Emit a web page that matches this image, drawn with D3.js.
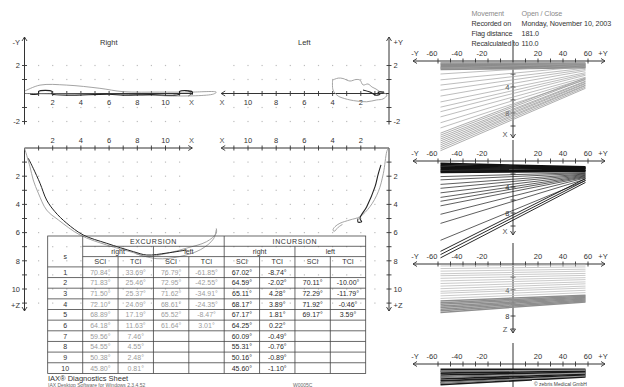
<!DOCTYPE html>
<html>
<head>
<meta charset="utf-8">
<script src="https://cdn.jsdelivr.net/npm/d3@7"></script>
<style>
body { margin: 0; background: #fff; }
svg { display: block; font-family: "Liberation Sans", Arial, sans-serif; }
</style>
</head>
<body>
<svg id="chart" width="624" height="387"></svg>
<script>
// ---- data ----
const headerKeys = ['Movement', 'Recorded on', 'Flag distance', 'Recalculated to'];
const headerVals = ['Open / Close', 'Monday, November 10, 2003', '181.0', '110.0'];

const rowLabels = ['1', '2', '3', '4', '5', '6', '7', '8', '9', '10'];
const excRightSCI = [70.84, 71.83, 71.50, 72.10, 68.89, 64.18, 59.56, 54.55, 50.38, 45.80];
const excRightTCI = [33.69, 25.46, 25.37, 24.09, 17.19, 11.63, 7.46, 4.55, 2.48, 0.81];
const excLeftSCI = [76.79, 72.95, 71.62, 68.61, 65.52, 61.64, null, null, null, null];
const excLeftTCI = [-61.85, -42.55, -34.91, -24.35, -8.47, 3.01, null, null, null, null];
const incRightSCI = [67.02, 64.59, 65.11, 68.17, 67.17, 64.25, 60.09, 55.31, 50.16, 45.60];
const incRightTCI = [-8.74, -2.02, 4.28, 3.89, 1.81, 0.22, -0.49, -0.76, -0.89, -1.10];
const incLeftSCI = [null, 70.11, 72.29, 71.92, 69.17, null, null, null, null, null];
const incLeftTCI = [null, -10.00, -11.79, -0.46, 3.59, null, null, null, null, null];

// traces [x, y] in sheet units
const topRightGray = [[0.03, 0.18], [1.1, 0.6], [3.0, 0.6], [5.35, 0.37], [7.0, 0.13], [9.6, 0.1], [11.7, 0.1], [13.6, 0.1],
  [13.4, -0.04], [10.5, -0.18], [8.9, -0.1], [6.8, -0.07], [2.5, -0.04], [0.03, 0]];
const topRightDark = [[0.4, -0.05], [1.0, -0.02], [1.0, 0.15], [1.95, 0.15], [1.95, -0.03], [6.0, -0.05], [7.0, -0.12],
  [9.0, -0.08], [10.5, -0.12], [11.0, -0.05], [11.0, 0.15], [11.9, 0.12], [11.9, -0.08]];
const topLeftGray = [[4.0, 0.96], [3.6, 1.1], [3.26, 1.07], [2.77, 0.89], [2.34, 1.0], [2.06, 0.96], [1.84, 0.61], [1.49, 0.68],
  [1.2, 0.46], [0.92, 0.32], [0.64, 0.13], [0.35, 0.04], [0.14, -0.11], [0.43, -0.39], [0.87, -0.46], [1.58, -0.59],
  [2.27, -0.54], [2.77, -0.46], [3.48, -0.25], [3.7, -0.11], [3.97, 0.25], [4.0, 0.96]];
const topLeftDark = [[1.84, 0.25], [1.35, 0.1], [0.92, -0.12], [0.64, -0.04], [0.78, 0.1], [0.35, 0.1]];
const midRightGray = [[0, 0], [0.39, 1.33], [0.62, 2.27], [0.98, 3.2], [1.57, 4.4], [2.4, 5.1], [3.94, 6.17], [5.83, 6.88],
  [7.72, 7.42], [8.67, 7.7], [10.1, 7.47], [11.5, 7.1], [12.9, 6.65], [13.6, 6.05], [13.6, 5.7]];
const midRightGray2 = [[7.9, 7.5], [9.4, 7.85], [11.0, 7.7], [12.5, 7.2], [13.4, 6.45], [13.6, 5.8]];
const midRightDark = [[0.27, 0.73], [0.62, 1.44], [1.1, 2.5], [1.57, 3.69], [2.16, 4.52], [3.0, 5.34], [4.17, 6.17],
  [5.83, 6.76], [7.72, 7.35], [8.67, 7.59], [10.1, 7.45], [11.5, 7.23]];
const midLeftGray = [[0.05, 0], [0.16, 0.26], [0.4, 1.8], [0.76, 3.1], [1.35, 4.16], [2.06, 4.87], [2.77, 5.1], [3.48, 5.34],
  [3.83, 5.58], [3.97, 5.8], [3.9, 5.92], [3.6, 5.62], [3.3, 5.42]];
const midLeftDark = [[0.57, 1.2], [0.78, 1.9], [0.99, 2.74], [1.58, 4.16], [2.06, 4.99], [1.94, 5.23], [2.2, 5.25], [2.2, 5.0]];

// side views: left / right end depth of every line
const p1BlockL = [0.3, 0.5, 0.7, 0.9, 1.1, 1.3];
const p1BlockR = [0.3, 0.45, 0.6, 0.75, 0.9, 1.05];
const p1FanL = [1.1, 2.0, 2.9, 3.7, 4.5, 5.4, 6.3, 7.1, 7.8, 8.6, 9.5, 10.3];
const p1FanR = [0.4, 0.6, 0.85, 1.1, 1.3, 1.5, 1.8, 2.0, 2.2, 2.5, 2.7, 2.9];
const p1BundleL = [11.1, 11.4, 11.7, 12.0, 12.3, 12.6, 12.9, 13.2, 13.5, 13.8];
const p1BundleR = [2.6, 2.8, 3.1, 3.2, 3.4, 3.5, 3.7, 3.8, 4.0, 4.2];
const p2BlockL = [0.35, 0.55, 0.75, 0.95, 1.15, 1.35, 1.55, 1.75];
const p2BlockR = [0.9, 1.0, 1.1, 1.2, 1.3, 1.4, 1.5, 1.6];
const p2FanL = [2.4, 2.9, 3.6, 4.2, 4.9, 5.6, 6.2, 6.9, 8.2, 9.6, 12.2];
const p2FanR = [1.8, 1.9, 2.0, 2.1, 2.2, 2.3, 2.4, 2.5, 2.6, 2.8, 3.0];
const p2BundleL = [13.9, 14.4, 14.9];
const p2BundleR = [2.7, 3.0, 3.3];
const p3L = [0.3, 0.7, 1.1, 1.5, 1.8, 2.2, 2.6, 3.0, 3.4, 3.8, 4.2, 4.5, 4.9, 5.3];
const p3R = [0.15, 0.45, 0.8, 1.1, 1.45, 1.75, 2.1, 2.4, 2.75, 3.05, 3.4, 3.7, 4.05, 4.4];
const p3BandL = [5.7, 5.95, 6.2, 6.45, 6.7, 6.95, 7.2, 7.45];
const p3BandR = [4.8, 4.95, 5.1, 5.25, 5.4, 5.55, 5.7, 5.85];
const p4L = [0.8, 1.1, 1.4, 1.7, 2.0, 2.3, 2.6, 2.9, 3.2];
const p4R = [0.8, 0.95, 1.1, 1.25, 1.4, 1.55, 1.7, 1.85, 2.0];

const sideTicks = [-60, -50, -40, -30, -20, -10, 10, 20, 30, 40, 50, 60];
const sideLabels = [-60, -40, -20, 20, 40, 60];
const lineEnds = [-58, 58];

// ---- drawing ----
const svg = d3.select('#chart');
svg.append('rect').attr('width', 624).attr('height', 387).attr('fill', '#fff');

const ink = '#333';
const unit = 14.1;
const xRight = d3.scaleLinear().domain([0, 12]).range([24.5, 24.5 + 12 * unit]);
const xLeft = d3.scaleLinear().domain([0, 12]).range([389, 389 - 12 * unit]);
const yTop = d3.scaleLinear().domain([2, -2]).range([65.5, 121.5]);
const yMid = d3.scaleLinear().domain([0, 11]).range([148, 148 + 11 * unit]);

function text(g, x, y, s, opts) {
    opts = opts || {};
    return g.append('text').attr('x', x).attr('y', y)
        .attr('font-size', opts.size || 8)
        .attr('fill', opts.fill || ink)
        .attr('text-anchor', opts.anchor || 'start')
        .text(s);
}

function arrow(g, x, y, dir) {
    const s = 4;
    const pts = {
        right: [[x - s, y - 2.5], [x, y], [x - s, y + 2.5]],
        left: [[x + s, y - 2.5], [x, y], [x + s, y + 2.5]],
        up: [[x - 2.5, y + s], [x, y], [x + 2.5, y + s]],
        down: [[x - 2.5, y - s], [x, y], [x + 2.5, y - s]]
    }[dir];
    g.append('path').attr('d', d3.line()(pts)).attr('fill', 'none').attr('stroke', ink).attr('stroke-width', 0.9);
}

const gl = svg.append('g');

// dot grid
function dots(xs, yScale, yVals) {
    const pts = [];
    d3.range(1, 12).forEach(u => yVals.forEach(v => pts.push([xs(u), yScale(v)])));
    gl.selectAll(null).data(pts).enter().append('rect')
        .attr('x', d => d[0] - 0.6).attr('y', d => d[1] - 0.6)
        .attr('width', 1.2).attr('height', 1.2).attr('fill', '#bdbdbd');
}
dots(xRight, yTop, [-2, -1, 1, 2]);
dots(xLeft, yTop, [-2, -1, 1, 2]);
dots(xRight, yMid, d3.range(1, 12));
dots(xLeft, yMid, d3.range(1, 12));

// horizontal axes
function hAxis(xs, y, labelDy, dir) {
    gl.append('line').attr('x1', xs(0)).attr('x2', xs(11.9)).attr('y1', y).attr('y2', y)
        .attr('stroke', ink).attr('stroke-width', 1);
    d3.range(1, 12).forEach(u => {
        gl.append('line').attr('x1', xs(u)).attr('x2', xs(u)).attr('y1', y - 2.5).attr('y2', y + 2.5)
            .attr('stroke', ink).attr('stroke-width', 0.9);
    });
    [2, 4, 6, 8, 10].forEach(u => text(gl, xs(u), y + labelDy, u, { anchor: 'middle', size: 7.5 }));
    text(gl, xs(11.85), y + labelDy, 'X', { anchor: 'middle', size: 7.5, fill: '#555' });
    arrow(gl, xs(11.9), y, dir);
}
hAxis(xRight, yTop(0), 11, 'right');
hAxis(xLeft, yTop(0), 11, 'left');
hAxis(xRight, yMid(0), -5.5, 'right');
hAxis(xLeft, yMid(0), -5.5, 'left');

// vertical axes
function vAxis(x, ys, vals, labels, y1, y2, dir, side, name, nameY) {
    gl.append('line').attr('x1', x).attr('x2', x).attr('y1', y1).attr('y2', y2)
        .attr('stroke', ink).attr('stroke-width', 1);
    vals.forEach(v => {
        gl.append('line').attr('x1', x - 2.5).attr('x2', x + 2.5).attr('y1', ys(v)).attr('y2', ys(v))
            .attr('stroke', ink).attr('stroke-width', 0.9);
    });
    const lx = side === 'left' ? x - 4.5 : x + 4.5;
    const anchor = side === 'left' ? 'end' : 'start';
    labels.forEach(v => text(gl, lx, ys(v) + 2.8, v, { anchor: anchor, size: 7.5 }));
    arrow(gl, x, dir === 'up' ? y1 : y2, dir);
    text(gl, lx, nameY, name, { anchor: anchor, size: 7.5 });
}
vAxis(xRight(0), yTop, [-2, -1, 1, 2], [2, -2], 37, 124.5, 'up', 'left', '-Y', 45);
vAxis(xLeft(0), yTop, [-2, -1, 1, 2], [2, -2], 37, 124.5, 'up', 'right', '+Y', 45);
vAxis(xRight(0), yMid, d3.range(1, 12), [2, 4, 6, 8, 10], 148, 311, 'down', 'left', '+Z', 307.5);
vAxis(xLeft(0), yMid, d3.range(1, 12), [2, 4, 6, 8, 10], 148, 311, 'down', 'right', '+Z', 307.5);

text(gl, 100, 45, 'Right', { size: 7.5 });
text(gl, 298, 45, 'Left', { size: 7.5 });

// traces
function trace(data, xs, ys, color, w) {
    const line = d3.line().x(d => xs(d[0])).y(d => ys(d[1])).curve(d3.curveCatmullRom);
    gl.append('path').attr('d', line(data)).attr('fill', 'none').attr('stroke', color).attr('stroke-width', w || 0.9);
}
trace(topRightGray, xRight, yTop, '#9a9a9a');
trace(topRightDark, xRight, yTop, '#222', 1.1);
trace(topLeftGray, xLeft, yTop, '#9a9a9a');
trace(topLeftDark, xLeft, yTop, '#222', 1.1);
trace(midRightGray, xRight, yMid, '#9a9a9a');
trace(midRightGray2, xRight, yMid, '#9a9a9a');
trace(midRightDark, xRight, yMid, '#222', 1);
trace(midLeftGray, xLeft, yMid, '#9a9a9a');
trace(midLeftDark, xLeft, yMid, '#222', 1.1);

// ---- table ----
const colX = d3.scaleLinear().domain([0, 8]).range([82.7, 365.7]);
const tableLeft = 47.7;
const hdrY = d3.scaleLinear().domain([0, 3]).range([236, 266.9]);
const rowY = d3.scaleLinear().domain([0, 10]).range([266.9, 373.4]);
const tg = svg.append('g');
const rule = '#444';
function tline(x1, y1, x2, y2) {
    tg.append('line').attr('x1', x1).attr('y1', y1).attr('x2', x2).attr('y2', y2)
        .attr('stroke', rule).attr('stroke-width', 0.8);
}
tg.append('rect').attr('x', tableLeft).attr('y', hdrY(0)).attr('width', colX(8) - tableLeft)
    .attr('height', rowY(10) - hdrY(0)).attr('fill', 'none').attr('stroke', rule).attr('stroke-width', 0.8);
tline(colX(0), hdrY(0), colX(0), rowY(10));
tline(colX(4), hdrY(0), colX(4), rowY(10));
tline(colX(0), hdrY(1), colX(8), hdrY(1));
tline(colX(0), hdrY(2), colX(8), hdrY(2));
[2, 6].forEach(c => tline(colX(c), hdrY(1), colX(c), rowY(10)));
[1, 3, 5, 7].forEach(c => tline(colX(c), hdrY(2), colX(c), rowY(10)));
d3.range(0, 10).forEach(r => tline(tableLeft, rowY(r), colX(8), rowY(r)));

const hs = 7;
text(tg, colX(2), hdrY(1) - 2.5, 'EXCURSION', { anchor: 'middle', size: hs }).attr('letter-spacing', 0.6);
text(tg, colX(6), hdrY(1) - 2.5, 'INCURSION', { anchor: 'middle', size: hs }).attr('letter-spacing', 0.6);
['right', 'left', 'right', 'left'].forEach((s, i) => text(tg, colX(i * 2 + 1), hdrY(2) - 2.5, s, { anchor: 'middle', size: hs }));
['SCI', 'TCI', 'SCI', 'TCI', 'SCI', 'TCI', 'SCI', 'TCI'].forEach((s, i) =>
    text(tg, colX(i + 0.5), hdrY(3) - 2.5, s, { anchor: 'middle', size: hs }));
text(tg, (tableLeft + colX(0)) / 2, hdrY(2) + 2, 's', { anchor: 'middle', size: hs });

const columns = [excRightSCI, excRightTCI, excLeftSCI, excLeftTCI, incRightSCI, incRightTCI, incLeftSCI, incLeftTCI];
rowLabels.forEach((lab, r) => {
    text(tg, (tableLeft + colX(0)) / 2, rowY(r + 1) - 2.8, lab, { anchor: 'middle', size: hs });
    columns.forEach((col, c) => {
        if (col[r] === null) return;
        text(tg, colX(c + 0.5), rowY(r + 1) - 2.8, col[r].toFixed(2) + '°',
            { anchor: 'middle', size: hs, fill: c < 4 ? '#9c9c9c' : '#2a2a2a' });
    });
});

text(svg, 48, 380.5, 'IAX® Diagnostics Sheet', { size: 7.5 });
text(svg, 48, 386.5, 'IAX Desktop Software for Windows 2.3.4.52', { size: 5, fill: '#666' });
text(svg, 293, 386.5, 'W0005C', { size: 5, fill: '#666' });

// ---- header, right ----
const hg = svg.append('g');
headerKeys.forEach((k, i) => {
    const col = i === 0 ? '#8a8a8a' : ink;
    text(hg, 471.5, 16 + i * 10, k, { size: 7.2, fill: col }).attr('letter-spacing', -0.15);
    text(hg, 521.5, 16 + i * 10, headerVals[i], { size: 7.2, fill: col }).attr('letter-spacing', -0.1);
});

// ---- side views ----
const xSide = d3.scaleLinear().domain([-60, 60]).range([438, 588]);
const panels = [
    { axisY: 61, bottom: 138, name: 'X' },
    { axisY: 161, bottom: 235, name: 'X' },
    { axisY: 264, bottom: 333, name: 'Z' },
    { axisY: 364, bottom: 400, name: '' }
];
const sg = svg.append('g');
const zScale = p => d3.scaleLinear().domain([0, 10]).range([p.axisY, p.axisY + 65]);

function fan(p, left, right, color, w) {
    const z = zScale(p);
    sg.selectAll(null).data(left.map((l, i) => [l, right[i]])).enter().append('line')
        .attr('x1', xSide(lineEnds[0])).attr('x2', xSide(lineEnds[1]))
        .attr('y1', d => z(d[0])).attr('y2', d => z(d[1]))
        .attr('stroke', color).attr('stroke-width', w);
}

panels.forEach(p => {
    const z = zScale(p);
    const y = p.axisY;
    sg.append('line').attr('x1', 413).attr('x2', 605).attr('y1', y).attr('y2', y).attr('stroke', ink).attr('stroke-width', 1);
    sideTicks.forEach(v => sg.append('line').attr('x1', xSide(v)).attr('x2', xSide(v))
        .attr('y1', y - 2.5).attr('y2', y + 2.5).attr('stroke', ink).attr('stroke-width', 0.9));
    sideLabels.forEach(v => text(sg, xSide(v) + (v < 0 ? -6 : 0), y - 5, v, { anchor: 'middle', size: 7.5 }));
    text(sg, 415, y - 5, '-Y', { anchor: 'middle', size: 7.5 });
    text(sg, 603, y - 5, '+Y', { anchor: 'middle', size: 7.5 });
    arrow(sg, 413, y, 'left');
    arrow(sg, 605, y, 'right');
    sg.append('line').attr('x1', xSide(0)).attr('x2', xSide(0)).attr('y1', y - 21).attr('y2', p.bottom)
        .attr('stroke', ink).attr('stroke-width', 1);
    if (p.name) {
        [2, 4, 6, 8, 10].forEach(v => sg.append('line').attr('x1', xSide(0) - 2.5).attr('x2', xSide(0) + 2.5)
            .attr('y1', z(v)).attr('y2', z(v)).attr('stroke', ink).attr('stroke-width', 0.9));
        [4, 8].forEach(v => text(sg, xSide(0) - 3.5, z(v) + 2.8, v, { anchor: 'end', size: 7.5 }));
        arrow(sg, xSide(0), p.bottom, 'down');
        text(sg, xSide(0) - 8, p.bottom - 1, p.name, { anchor: 'middle', size: 7.5, fill: '#555' });
    }
});

fan(panels[0], p1BlockL, p1BlockR, '#8c8c8c', 1.6);
fan(panels[0], p1FanL, p1FanR, '#a0a0a0', 0.7);
fan(panels[0], p1BundleL, p1BundleR, '#9a9a9a', 0.8);
fan(panels[1], p2BlockL, p2BlockR, '#111', 1.6);
fan(panels[1], p2FanL, p2FanR, '#1a1a1a', 0.7);
fan(panels[1], p2BundleL, p2BundleR, '#111', 0.9);
fan(panels[2], p3L, p3R, '#bdbdbd', 0.8);
fan(panels[2], p3BandL, p3BandR, '#8e8e8e', 1.5);
fan(panels[3], p4L, p4R, '#1a1a1a', 1.6);
fan(panels[3], p4L.filter((d, i) => i % 3 === 1), p4R.filter((d, i) => i % 3 === 1), '#9a9a9a', 1.2);

sg.append('rect').attr('x', 532).attr('y', 380).attr('width', 92).attr('height', 7).attr('fill', '#fff');
text(sg, 534, 385.5, '© zebris Medical GmbH', { size: 5, fill: '#444' });
</script>
</body>
</html>
